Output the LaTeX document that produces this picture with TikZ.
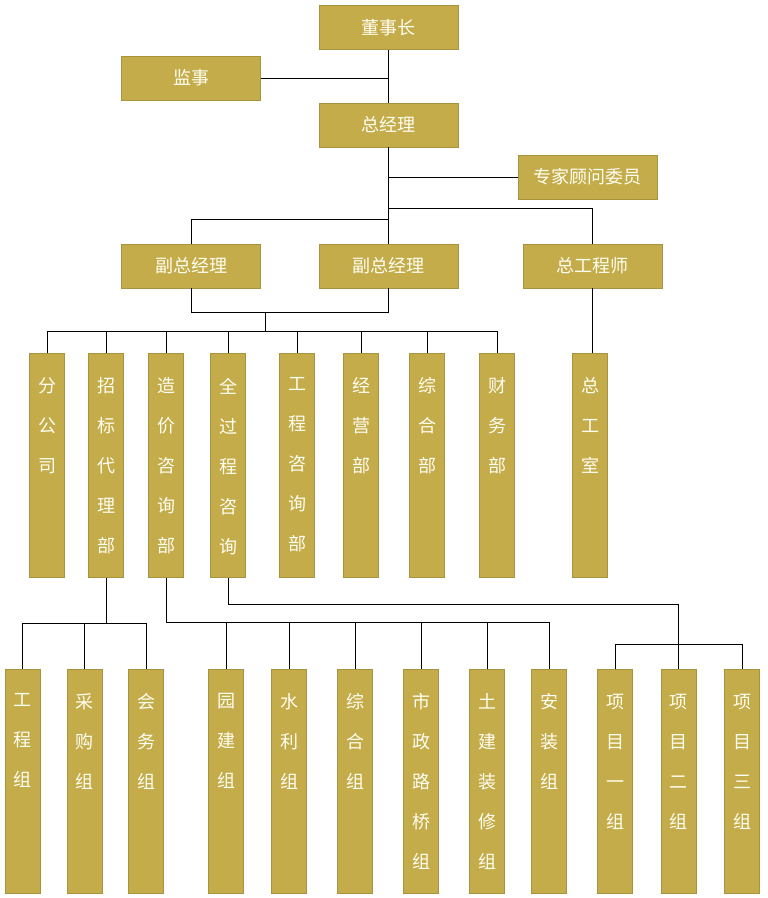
\documentclass[tikz,border=0pt]{standalone}
\usepackage{fontspec}
\usepackage{tikz}
\newfontfamily\cjk{Noto Sans CJK SC}
\definecolor{Gold}{HTML}{C4AC4A}
\definecolor{GoldEdge}{HTML}{A8943E}
\definecolor{Label}{HTML}{FFFEF2}

\begin{document}
\begin{tikzpicture}[x=1pt,y=-1pt,
	box/.style={draw=GoldEdge,fill=Gold,line width=0.8pt,minimum width=139pt,minimum height=44pt,inner sep=0pt,text=Label,font=\cjk\fontsize{18}{22}\selectfont},
	colbox/.style={draw=GoldEdge,fill=Gold,line width=0.8pt,minimum width=35pt,minimum height=224pt,inner sep=0pt,anchor=north},
	coltext/.style={anchor=north,inner sep=0pt,align=center,text=Label,font=\cjk\fontsize{18}{40}\selectfont,yshift=-24.5pt},
	link/.style={line width=0.9pt}]
\useasboundingbox (0,0) rectangle (768,898);
% Top of the chart
\node [box] (dsz) at (388.5,27.5) {董事长};
\node [box] (js) at (191,78) {监事};
\node [box] (zjl) at (388.5,125) {总经理};
\node [box] (zjgw) at (587.5,177) {专家顾问委员};
\node [box] (fz1) at (191,266) {副总经理};
\node [box] (fz2) at (388.5,266) {副总经理};
\node [box] (zgcs) at (592.5,266) {总工程师};
\draw [link] (dsz) -- (zjl);
\draw [link] (js.east) -- (js.east -| dsz.south);
\draw [link] (zjl) -- (fz2);
\draw [link] (zjgw.west) -- (zjgw.west -| zjl.south);
\draw [link] (zjl.south) ++(0,61) -| (zgcs.north);
\draw [link] (zjl.south) ++(0,72) -| (fz1.north);
% Departments
\foreach \n/\x/\t in {fgs/47/{分\\公\\司},zbdl/106/{招\\标\\代\\理\\部},zjzx/166/{造\\价\\咨\\询\\部},qgc/228/{全\\过\\程\\咨\\询},gczx/297/{工\\程\\咨\\询\\部},jyb/361/{经\\营\\部},zhb/427/{综\\合\\部},cwb/497/{财\\务\\部},zgs/590/{总\\工\\室}}{
	\node [colbox] (\n) at (\x,353) {};
	\node [coltext] (\n-t) at (\n.north) {\t};
}
\coordinate (fzm) at (265,312);
\coordinate (bus) at (0,331);
\draw [link] (fz1.south) -- (fz1.south |- fzm) -- (fz2.south |- fzm) -- (fz2.south);
\draw [link] (fzm) -- (fzm |- bus);
\draw [link] (fgs.north |- bus) -- (cwb.north |- bus);
\foreach \n in {fgs,zbdl,zjzx,qgc,gczx,jyb,zhb,cwb}
	\draw [link] (\n.north) -- (\n.north |- bus);
\draw [link] (zgcs) -- (zgcs.south |- zgs.north);
% Groups
\foreach \n/\x/\t in {gcz/22.5/{工\\程\\组},cgz/84.5/{采\\购\\组},hwz/146/{会\\务\\组},yjz/226/{园\\建\\组},slz/289/{水\\利\\组},zhz/355/{综\\合\\组},szlq/421/{市\\政\\路\\桥\\组},tjzx/487/{土\\建\\装\\修\\组},azz/549/{安\\装\\组},xm1/615/{项\\目\\一\\组},xm2/678.5/{项\\目\\二\\组},xm3/742/{项\\目\\三\\组}}{
	\node [colbox] (\n) at (\x,669) {};
	\node [coltext] (\n-t) at (\n.north) {\t};
}
% Tendering groups
\draw [link] (zbdl.south) -- ++(0,46);
\draw [link] (gcz.north) |- (hwz.north |- 0,623) -- (hwz.north);
\draw [link] (cgz.north) -- ++(0,-46);
% Cost consulting groups
\draw [link] (zjzx.south) |- (azz.north |- 0,622) -- (azz.north);
\foreach \n in {yjz,slz,zhz,szlq,tjzx}
	\draw [link] (\n.north) -- ++(0,-47);
% Project groups
\draw [link] (qgc.south) |- (xm2.north |- 0,604) -- (xm2.north);
\draw [link] (xm1.north) |- (xm3.north |- 0,644) -- (xm3.north);
\end{tikzpicture}
\end{document}
